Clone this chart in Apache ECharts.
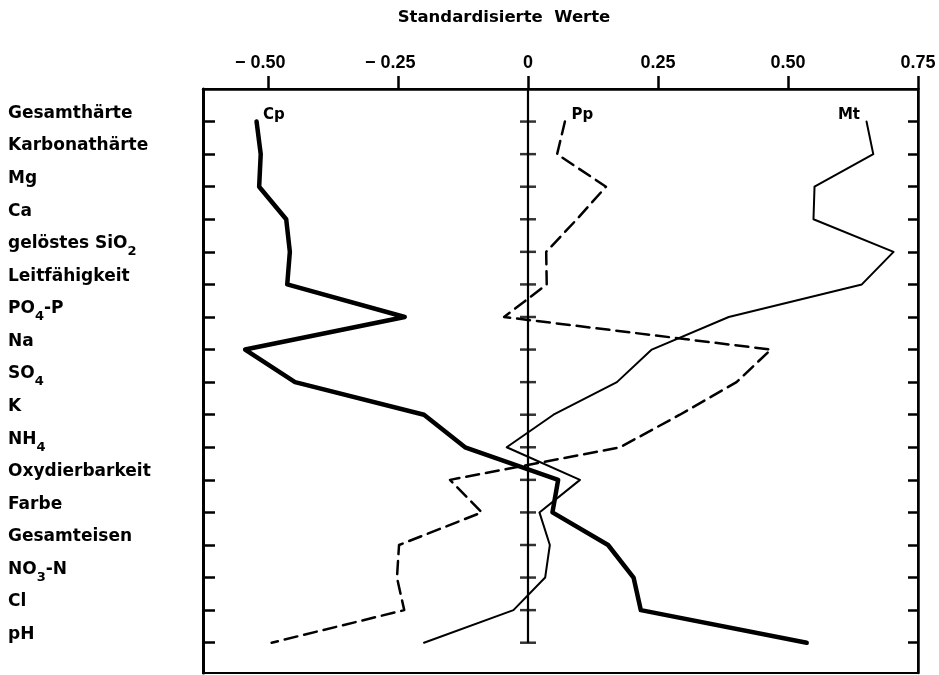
<!DOCTYPE html>
<html>
<head>
<meta charset="utf-8">
<script src="https://cdn.jsdelivr.net/npm/echarts@6/dist/echarts.min.js"></script>
<style>
html,body{margin:0;padding:0;background:#fff;}
#chart{width:939px;height:675px;}
</style>
</head>
<body>
<div id="chart"></div>
<script>
// ---- data ----
const categories = ['Gesamthärte','Karbonathärte','Mg','Ca','gelöstes SiO2','Leitfähigkeit','PO4-P','Na','SO4','K','NH4','Oxydierbarkeit','Farbe','Gesamteisen','NO3-N','Cl','pH'];
const cp = [-0.522,-0.514,-0.517,-0.465,-0.458,-0.463,-0.237,-0.544,-0.448,-0.200,-0.121,0.058,0.047,0.154,0.203,0.217,0.536];
const pp = [0.071,0.056,0.150,0.094,0.035,0.036,-0.046,0.467,0.401,0.292,0.177,-0.150,-0.089,-0.248,-0.252,-0.238,-0.493];
const mt = [0.651,0.664,0.551,0.549,0.703,0.642,0.386,0.238,0.171,0.049,-0.041,0.100,0.022,0.042,0.033,-0.028,-0.200];
const seriesNames = ['Cp','Pp','Mt'];
const xTicks = [-0.5,-0.25,0,0.25,0.5,0.75];
const xTickLabels = ['− 0.50','− 0.25','0','0.25','0.50','0.75'];
const titleText = 'Standardisierte  Werte';

const idx = categories.map((c,i)=>i);
const labelFont = 'DejaVu Sans';

function richName(name){
  return '{n|' + name.replace(/(\d)/g, '}{s|$1}{n|') + '}';
}
function xLabel(v){
  let k = xTicks.findIndex(t=>Math.abs(t-v)<1e-6);
  if(k<0) return '';
  const s = xTickLabels[k];
  if(s.startsWith('−')){
    const num = s.replace(/^−\s*/,'');
    return '{m|− }{n|' + num + '}{h|− }';
  }
  return '{n|' + s + '}';
}

const chart = echarts.init(document.getElementById('chart'), null, {renderer:'canvas'});

function lineSeries(name, vals, width, type, labelPos){
  return {
    name: name, type: 'line', silent: true,
    data: vals.map((v,i)=>[v,i]),
    symbol: 'circle', symbolSize: 1, showSymbol: true,
    itemStyle: {color: 'rgba(0,0,0,0)'},
    lineStyle: {color:'#000', width: width, type: type, cap: 'round', join: 'round'},
    label: {
      show: true,
      formatter: p => p.dataIndex === 0 ? name : '',
      position: labelPos, distance: 6, offset: [0,-6],
      color: '#000', fontFamily: labelFont, fontWeight: 'bold', fontSize: 15
    },
    emphasis: {disabled: true},
    z: 5
  };
}

const xRich = {
  n: {fontFamily: 'Liberation Sans', fontWeight: 'bold', fontSize: 18, color: '#000'},
  m: {fontFamily: 'Liberation Sans', fontWeight: 'bold', fontSize: 18, color: '#000'},
  h: {fontFamily: 'Liberation Sans', fontWeight: 'bold', fontSize: 18, color: 'rgba(0,0,0,0)'}
};

const option = {
  backgroundColor: '#fff',
  animation: false,
  title: {
    text: titleText, left: 499, top: 4, textAlign: 'center',
    textStyle: {fontFamily: labelFont, fontWeight: 'bold', fontSize: 16.5, color: '#000'}
  },
  grid: {left: 203, right: 21, top: 89, bottom: 2, show: true, borderColor: '#000', borderWidth: 2, backgroundColor: 'rgba(0,0,0,0)'},
  xAxis: {
    type: 'value', position: 'top', min: -0.625, max: 0.75,
    axisLine: {show: true, onZero: false, lineStyle: {color:'#000', width: 2.5}},
    axisTick: {show: true, inside: false, length: 13, lineStyle: {color:'#000', width: 2.5}, customValues: xTicks},
    axisLabel: {show: true, customValues: xTicks, margin: 17, formatter: xLabel, rich: xRich},
    splitLine: {show: false}
  },
  yAxis: [{
    type: 'value', inverse: true, min: -1, max: 16.93, position: 'left',
    axisLine: {show: true, onZero: false, lineStyle: {color:'#000', width: 3}},
    axisTick: {show: true, inside: true, length: 12, lineStyle: {color:'#000', width: 2.5}, customValues: idx},
    axisLabel: {
      show: true, customValues: idx.map(i=>i-0.25), align: 'left', margin: 195,
      formatter: v => { const k = Math.round(v+0.25); return categories[k] ? richName(categories[k]) : ''; },
      rich: {
        n: {fontFamily: labelFont, fontWeight: 'bold', fontSize: 17, color: '#000', lineHeight: 20},
        s: {fontFamily: labelFont, fontWeight: 'bold', fontSize: 13, color: '#000', lineHeight: 14, padding: [16,0,0,0]}
      }
    },
    splitLine: {show: false}
  },{
    type: 'value', inverse: true, min: -1, max: 16.93, position: 'right',
    axisLine: {show: true, onZero: false, lineStyle: {color:'#000', width: 2.5}},
    axisTick: {show: true, inside: true, length: 10, lineStyle: {color:'#000', width: 2.5}, customValues: idx},
    axisLabel: {show: false},
    splitLine: {show: false}
  }],
  series: [
    {
      name: 'zero', type: 'scatter', silent: true,
      data: idx.map(i=>[0,i]),
      symbol: 'rect', symbolSize: [16,2.5],
      itemStyle: {color:'#000'},
      emphasis: {disabled: true},
      markLine: {
        silent: true, symbol: 'none', label: {show: false},
        lineStyle: {color:'#000', width: 2.2, type: 'solid'},
        data: [[{coord:[0,-1]},{coord:[0,idx.length-1]}]]
      },
      z: 3
    },
    lineSeries(seriesNames[0], cp, 4.5, 'solid', 'right'),
    lineSeries(seriesNames[1], pp, 2.5, [13,7], 'right'),
    lineSeries(seriesNames[2], mt, 2, 'solid', 'left')
  ]
};
chart.setOption(option);
</script>
</body>
</html>
